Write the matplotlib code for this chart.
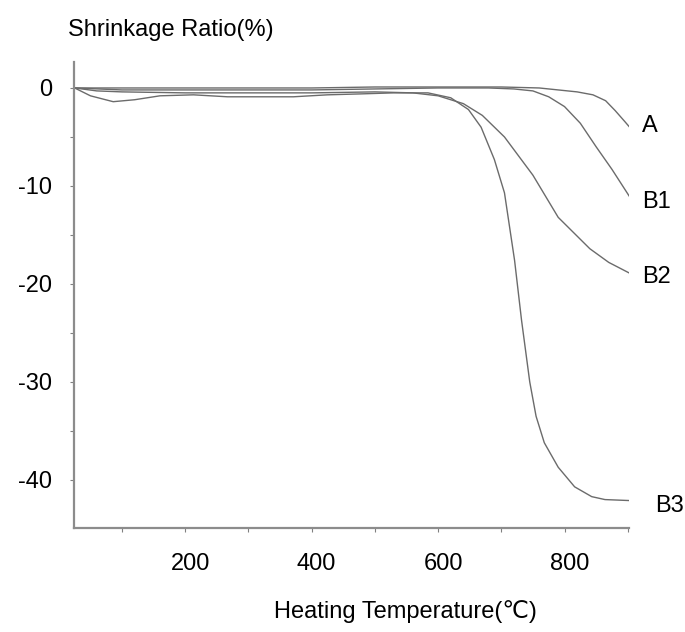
import matplotlib
matplotlib.use("Agg")
import matplotlib.pyplot as plt
from matplotlib.ticker import MultipleLocator
from matplotlib.transforms import ScaledTranslation

# values (temperature in C, shrinkage in %)
a_temp = [25, 100, 200, 300, 400, 500, 600, 700, 760, 790, 820, 845, 865, 880, 895, 903]
a_val = [0, 0, 0, 0, 0, 0.1, 0.1, 0.1, 0, -0.2, -0.4, -0.7, -1.3, -2.3, -3.4, -4.0]

b1_temp = [25, 100, 200, 300, 400, 500, 600, 680, 720, 750, 775, 800, 825, 850, 875, 903]
b1_val = [0, -0.2, -0.2, -0.2, -0.2, -0.1, 0, 0, -0.1, -0.3, -0.9, -1.9, -3.6, -6.0, -8.3, -11.1]

b2_temp = [25, 60, 100, 200, 300, 400, 500, 560, 600, 640, 670, 705, 750, 790, 840, 870, 903]
b2_val = [0, -0.3, -0.4, -0.5, -0.5, -0.5, -0.4, -0.5, -0.8, -1.6, -2.8, -5.0, -8.9, -13.2, -16.4, -17.8, -18.9]

b3_temp = [25, 50, 86, 120, 160, 213, 267, 320, 371, 425, 480, 530, 584, 620, 648, 668,
           689, 705, 721, 732, 745, 755, 768, 790, 816, 843, 864, 903]
b3_val = [0, -0.8, -1.4, -1.2, -0.8, -0.7, -0.9, -0.9, -0.9, -0.7, -0.6, -0.5, -0.5, -1.0,
          -2.2, -4.0, -7.3, -10.7, -17.6, -23.7, -30.0, -33.5, -36.2, -38.7, -40.7, -41.7, -42.0, -42.1]

curve_names = ["A", "B1", "B2", "B3"]
x_ticks = [200, 400, 600, 800]
y_ticks = [0, -10, -20, -30, -40]

FONTS = ["Liberation Sans", "DejaVu Sans"]
plt.rcParams["font.family"] = FONTS
plt.rcParams["axes.unicode_minus"] = False

fig = plt.figure(figsize=(6.85, 6.32), dpi=100)
ax = fig.add_axes([74 / 685, 1 - 528 / 632, 555 / 685, 466 / 632])

line_color = "0.42"
curves = [(a_temp, a_val), (b1_temp, b1_val), (b2_temp, b2_val), (b3_temp, b3_val)]
for temp, val in curves:
    ax.plot(temp, val, color=line_color, lw=1.0)

# curve names right of each end point (offsets in points)
name_offsets = [(9, 1), (9, -4), (9, -3), (18, -4)]
for name, (temp, val), off in zip(curve_names, curves, name_offsets):
    ax.annotate(name, (temp[-1], val[-1]), xytext=off, textcoords="offset points",
                fontsize=17, color="black", va="center", ha="left", annotation_clip=False)

ax.set_xlim(24, 902)
ax.set_ylim(-44.9, 2.65)

ax.set_xticks(x_ticks)
ax.set_yticks(y_ticks)
ax.xaxis.set_minor_locator(MultipleLocator(100))
ax.yaxis.set_minor_locator(MultipleLocator(5))
ax.tick_params(which="both", length=3, width=0.8, color="0.5", labelsize=17)
ax.tick_params(axis="x", which="major", pad=15)
ax.tick_params(axis="y", which="major", pad=13)

# the scanned labels sit a little right of their ticks
shift = ScaledTranslation(5 / 100, 0, fig.dpi_scale_trans)
for lbl in ax.get_xticklabels():
    lbl.set_transform(lbl.get_transform() + shift)

for side in ["top", "right"]:
    ax.spines[side].set_visible(False)
for side in ["left", "bottom"]:
    ax.spines[side].set_color("0.55")
    ax.spines[side].set_linewidth(1.6)

fig.text(68 / 685, 1 - 30 / 632, "Shrinkage Ratio(%)", fontsize=17, va="center", ha="left")
fig.text(405 / 685, 1 - 612 / 632, "Heating Temperature(\u2103)", fontsize=17,
         va="center", ha="center", family=FONTS)

fig.savefig("out.png", dpi=100)
